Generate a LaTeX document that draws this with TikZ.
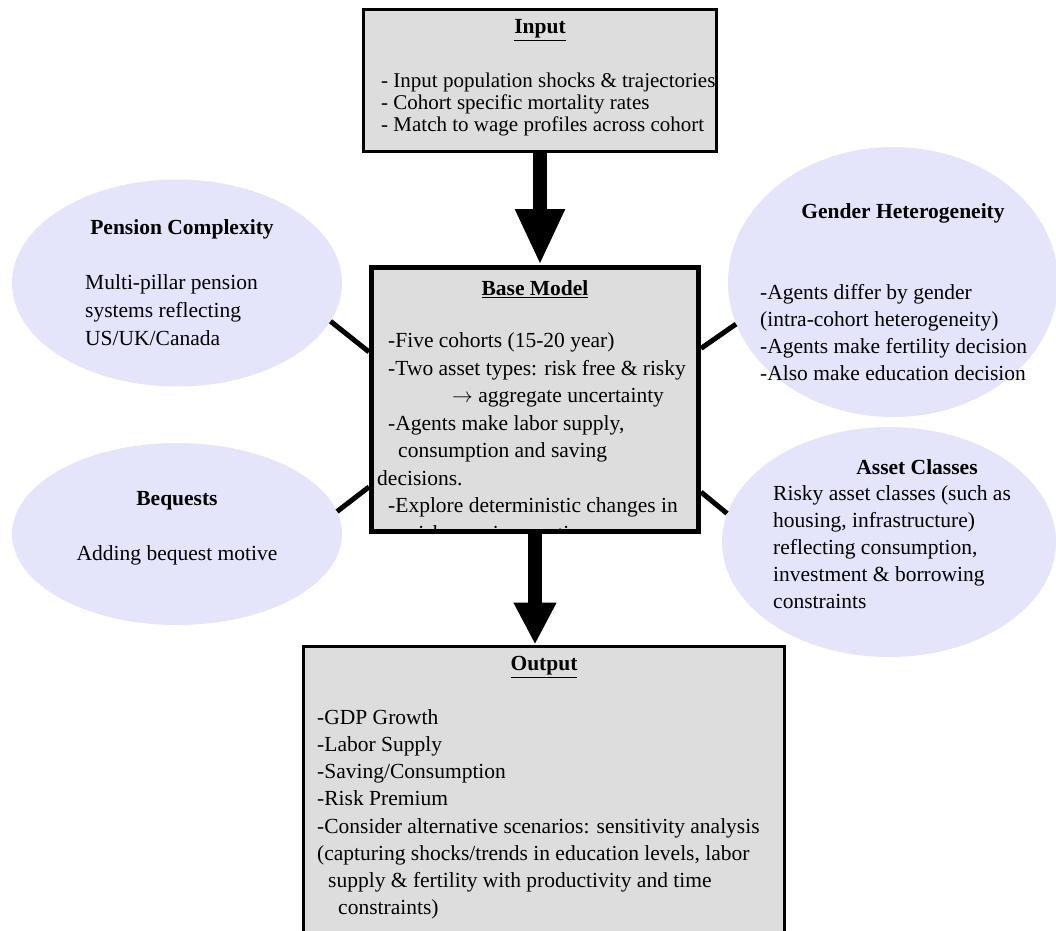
\documentclass[tikz,border=0pt]{standalone}
\usepackage{fontspec}
\setmainfont{Liberation Serif}
\usetikzlibrary{shapes.geometric,arrows.meta,calc}
\definecolor{boxgray}{RGB}{221,221,221}
\definecolor{lav}{RGB}{228,228,250}
\begin{document}
\begin{tikzpicture}[x=1pt,y=-1pt,
  box/.style={draw=black, fill=boxgray, rectangle, inner sep=0pt},
  oval/.style={ellipse, fill=lav, draw=none, inner sep=0pt},
  txt/.style={inner sep=0pt, align=left, anchor=north west},
  ttl/.style={inner sep=0pt, font=\fontsize{21.5}{26}\selectfont\bfseries},
  link/.style={line width=5pt, draw=black},
  fat/.style={line width=14pt, draw=black}
]
\useasboundingbox (0,0) rectangle (1056,930);

% ellipses
\node[oval, minimum width=330pt, minimum height=207pt] (pen) at (177,283) {};
\node[oval, minimum width=330pt, minimum height=270pt] (gen) at (893,282) {};
\node[oval, minimum width=330pt, minimum height=182pt] (beq) at (177,534) {};
\node[oval, minimum width=334pt, minimum height=230pt] (ast) at (889,542) {};

% boxes
\node[box, line width=3pt, minimum width=353pt, minimum height=142pt] (input) at (540,80.5) {};
\node[box, line width=5pt, minimum width=327pt, minimum height=264pt] (base) at (535,399.5) {};
\node[box, line width=3pt, minimum width=481pt, minimum height=330pt] (output) at (544,811) {};

% connectors
\draw[link] (pen.-14) -- ($(base.north west)!0.323!(base.south west)$);
\draw[link] (gen.195) -- ($(base.north east)!0.31!(base.south east)$);
\draw[link] (beq.8) -- ($(base.north west)!0.825!(base.south west)$);
\draw[link] (ast.170) -- ($(base.north east)!0.844!(base.south east)$);

% arrows
\draw[fat, -{Triangle[width=46pt,length=56pt]}] (input.south) -- (input.south |- base.north);
\draw[fat, -{Triangle[width=40pt,length=42pt]}] (base.south) -- (base.south |- output.north);

% input text
\node[ttl] (inT) at (540,30) {\underline{Input}};
\node[txt, font=\fontsize{21}{22.3}\selectfont] (inB) at (381,72.5)
  {- Input population shocks \& trajectories\\
   - Cohort specific mortality rates\\
   - Match to wage profiles across cohort};

% base text
\node[ttl] (baseT) at (535,289) {\underline{Base Model}};
\begin{scope}
\clip ($(base.north west)+(5,5)$) rectangle ($(base.south east)+(-5,-5)$);
\node[txt, font=\fontsize{21.5}{27.5}\selectfont] (baseB) at (377,332.5)
  {\hspace*{11pt}-Five cohorts (15-20 year)\\
   \hspace*{11pt}-Two asset types: risk free \& risky\\
   \hspace*{75pt}$\rightarrow$ aggregate uncertainty\\
   \hspace*{11pt}-Agents make labor supply,\\
   \hspace*{21pt}consumption and saving\\
   decisions.\\
   \hspace*{11pt}-Explore deterministic changes in\\
   \hspace*{34pt}risk premia over time};
\end{scope}

% output text
\node[ttl] (outT) at (544,667) {\underline{Output}};
\node[txt, font=\fontsize{21.5}{27.1}\selectfont] (outB) at (317,709.5)
  {-GDP Growth\\
   -Labor Supply\\
   -Saving/Consumption\\
   -Risk Premium\\
   -Consider alternative scenarios: sensitivity analysis\\
   (capturing shocks/trends in education levels, labor\\
   \hspace*{11pt}supply \& fertility with productivity and time\\
   \hspace*{21pt}constraints)};

% ellipse texts
\node[ttl] (penT) at (182,229) {Pension Complexity};
\node[txt, font=\fontsize{21.5}{28}\selectfont] (penB) at (85,274)
  {Multi-pillar pension\\ systems reflecting\\ US/UK/Canada};

\node[ttl] (genT) at (903,213) {Gender Heterogeneity};
\node[txt, font=\fontsize{21.5}{27}\selectfont] (genB) at (760,284.5)
  {-Agents differ by gender\\ (intra-cohort heterogeneity)\\ -Agents make fertility decision\\ -Also make education decision};

\node[ttl] (beqT) at (177,501) {Bequests};
\node[inner sep=0pt, font=\fontsize{21.5}{27}\selectfont] (beqB) at (177,555) {Adding bequest motive};

\node[ttl] (astT) at (917,467) {Asset Classes};
\node[txt, font=\fontsize{21.5}{27}\selectfont] (astB) at (773,485.5)
  {Risky asset classes (such as\\ housing, infrastructure)\\ reflecting consumption,\\ investment \& borrowing\\ constraints};
\end{tikzpicture}
\end{document}
